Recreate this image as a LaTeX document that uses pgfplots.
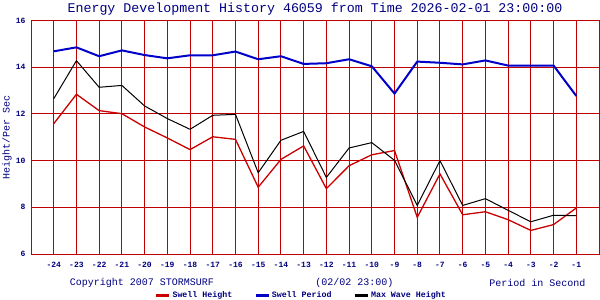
\documentclass[border=0pt]{standalone}
\usepackage{pgfplots}
\pgfplotsset{compat=1.18}
\usepackage{pgfplotstable}
\usepackage{fontspec}
\setmainfont{Liberation Mono}
\definecolor{navy}{RGB}{0,0,128}
\definecolor{gridred}{RGB}{192,0,0}
\definecolor{sred}{RGB}{200,0,0}
\definecolor{sblue}{RGB}{0,0,200}
\pgfplotstableread{
x red blue black
-24 11.58 14.68 12.65
-23 12.84 14.85 14.28
-22 12.14 14.47 13.14
-21 12.01 14.72 13.22
-20 11.44 14.52 12.34
-19 10.97 14.38 11.80
-18 10.47 14.51 11.34
-17 11.02 14.51 11.94
-16 10.91 14.67 11.98
-15 8.86 14.34 9.48
-14 10.05 14.47 10.87
-13 10.63 14.14 11.25
-12 8.80 14.17 9.28
-11 9.78 14.34 10.54
-10 10.25 14.04 10.77
-9 10.43 12.87 10.01
-8 7.57 14.24 8.08
-7 9.43 14.19 10.00
-6 7.68 14.12 8.08
-5 7.81 14.29 8.37
-4 7.47 14.07 7.87
-3 7.01 14.07 7.38
-2 7.26 14.07 7.66
-1 7.97 12.77 7.64
}\datatable
\begin{document}
\begin{tikzpicture}
\path[use as bounding box] (0,0) rectangle (600pt,300pt);
\begin{axis}[
  at={(31pt,46pt)}, anchor=south west,
  scale only axis, width=568pt, height=233.5pt,
  xmin=-25, xmax=0, ymin=6, ymax=16,
  xtick={-24,...,-1}, ytick={6,8,...,16},
  major tick length=0pt,
  grid=major,
  major grid style={gridred, line width=1pt},
  axis line style={gridred, line width=1pt},
  /pgf/number format/assume math mode=true,
  ticklabel style={font=\fontsize{8}{9}\selectfont\bfseries, text=navy},
  xticklabel style={yshift=-5pt},
  yticklabel style={xshift=-2pt},
  ylabel={Height/Per Sec},
  ylabel style={font=\fontsize{10}{11}\selectfont, text=navy, at={(-24pt,0.5)}, anchor=center, rotate=0},
  legend columns=3,
  legend style={draw=none, fill=none, at={(0.218,-0.178)}, anchor=west,
    font=\fontsize{8.3}{9}\selectfont\bfseries, text=navy,
    /tikz/every even column/.append style={column sep=20pt}, inner sep=0pt},
  legend image code/.code={\draw[#1, line width=2.5pt] (0pt,0pt) -- (13pt,0pt);},
]
\addplot[sred, line width=1.3pt] table[x=x, y=red] {\datatable};
\addlegendentry{Swell Height}
\addplot[sblue, line width=2pt] table[x=x, y=blue] {\datatable};
\addlegendentry{Swell Period}
\addplot[black, line width=1pt] table[x=x, y=black] {\datatable};
\addlegendentry{Max Wave Height}
\end{axis}
\node[text=navy, font=\fontsize{13.3}{14}\selectfont] at (315pt,291pt) {Energy Development History 46059 from Time 2026-02-01 23:00:00};
\node[text=navy, font=\fontsize{10}{11}\selectfont, anchor=west, inner sep=0pt] at (69.7pt,17pt) {Copyright 2007 STORMSURF};
\node[text=navy, font=\fontsize{10}{11}\selectfont] at (354.5pt,17pt) {(02/02 23:00)};
\node[text=navy, font=\fontsize{10}{11}\selectfont, anchor=east, inner sep=0pt] at (585.5pt,17pt) {Period in Second};
\end{tikzpicture}
\end{document}
